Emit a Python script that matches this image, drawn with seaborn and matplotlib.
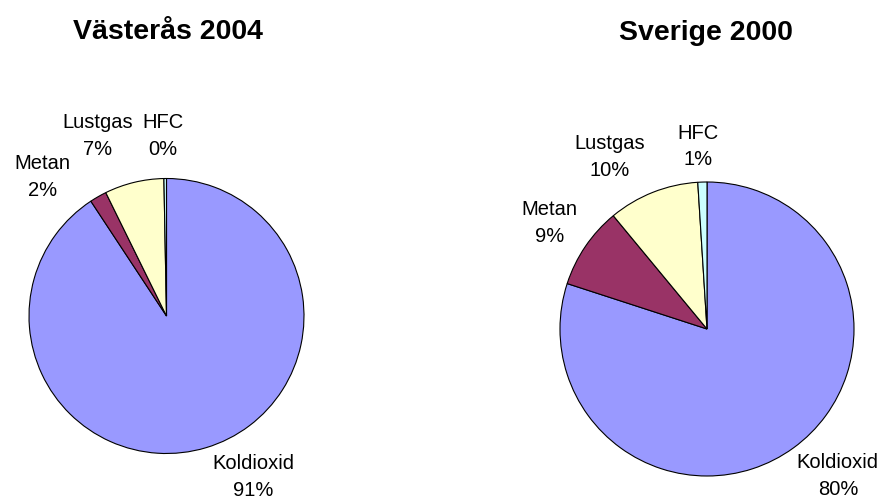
import numpy as np
import matplotlib
matplotlib.use("Agg")
import matplotlib.pyplot as plt
import seaborn as sns

# data
gases = ["Koldioxid", "Metan", "Lustgas", "HFC"]
vasteras_2004 = [91, 2, 7, 0.3]
sverige_2000 = [80, 9, 10, 1]
titles = ["Västerås 2004", "Sverige 2000"]
gas_colors = ["#9999FF", "#993366", "#FFFFCC", "#CCFFFF"]

sns.set_theme(style="white")
plt.rcParams["font.family"] = ["Liberation Sans", "DejaVu Sans"]
plt.rcParams["text.color"] = "black"

W, H = 883, 504
fig = plt.figure(figsize=(W / 100, H / 100), dpi=100)

# layout (pixels): pie centre, radius, title baseline, label offsets in radius units
layouts = [
    dict(cx=166.5, cy=316, r=137.5, title_x=167.5, title_y=39,
         offsets=[(0.63, -1.17), (-0.905, 1.01), (-0.50, 1.31), (-0.025, 1.31)]),
    dict(cx=707, cy=329, r=147, title_x=706, title_y=40,
         offsets=[(0.89, -1.0), (-1.07, 0.72), (-0.66, 1.17), (-0.06, 1.24)]),
]

for values, title, lay in zip([vasteras_2004, sverige_2000], titles, layouts):
    cx, cy, r = lay["cx"], lay["cy"], lay["r"]
    ax = fig.add_axes([(cx - r) / W, (H - cy - r) / H, 2 * r / W, 2 * r / H])
    ax.pie(values, colors=gas_colors, startangle=90, counterclock=False,
           wedgeprops=dict(edgecolor="black", linewidth=0.8))
    ax.set_xlim(-1, 1)
    ax.set_ylim(-1, 1)
    ax.axis("off")

    pct = np.array(values) / np.sum(values) * 100
    for name, p, (dx, dy) in zip(gases, pct, lay["offsets"]):
        ax.text(dx, dy, f"{name}\n{p:.0f}%", ha="center", va="center",
                fontsize=14.5, linespacing=1.5, clip_on=False)

    fig.text(lay["title_x"] / W, 1 - lay["title_y"] / H, title, ha="center",
             va="baseline", fontsize=20.5, fontweight="bold")

fig.savefig("out.png", dpi=100)
